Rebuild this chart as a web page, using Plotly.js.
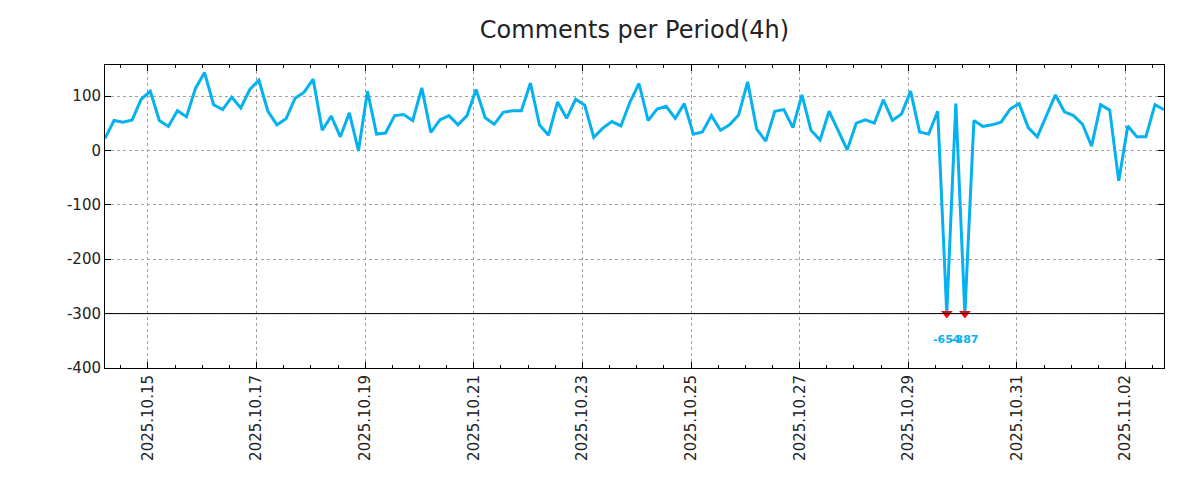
<!DOCTYPE html>
<html>
<head>
<meta charset="utf-8">
<script src="https://cdn.plot.ly/plotly-3.0.1.min.js"></script>
<style>html,body{margin:0;padding:0;background:#fff;}#chart{width:1200px;height:500px;}</style>
</head>
<body>
<div id="chart"></div>
<script>
// ---- data ----
const periodStart = '2025-10-14T05:00:00';
const periodHours = 4;
const commentCounts = [
  22, 55, 52, 56, 94, 109, 55, 44, 73, 62,
  114, 143, 84, 75, 98, 78, 112, 129, 72, 47,
  58, 96, 107, 131, 37, 63, 25, 69, -1, 109,
  30, 32, 64, 66, 55, 115, 33, 56, 64, 47,
  64, 112, 60, 48, 70, 73, 73, 124, 47, 28,
  89, 59, 94, 83, 24, 41, 53, 45, 89, 123,
  55, 76, 81, 59, 86, 30, 34, 64, 37, 47,
  65, 126, 39, 17, 72, 75, 42, 102, 37, 19,
  72, 36, 1, 50, 56, 50, 93, 55, 67, 109,
  34, 30, 72, -654, 86, -387, 55, 44, 47, 52,
  76, 86, 42, 25, 64, 102, 71, 64, 48, 8,
  84, 74, -56, 45, 25, 25, 84, 75
];
const clipFloor = -300;
const yTickVals = [100, 0, -100, -200, -300, -400];
const yTickText = ['100', '0', '-100', '-200', '-300', '-400'];

// ---- build ----
function fmt(d) {
  const p = n => String(n).padStart(2, '0');
  return d.getFullYear() + '-' + p(d.getMonth() + 1) + '-' + p(d.getDate()) + ' ' + p(d.getHours()) + ':00';
}
const t0 = new Date(periodStart);
const periods = commentCounts.map((_, i) => fmt(new Date(t0.getTime() + i * periodHours * 3600000)));
const plotted = commentCounts.map(v => Math.max(v, clipFloor));
const clippedIdx = commentCounts.map((v, i) => v < clipFloor ? i : -1).filter(i => i >= 0);

const lineColor = '#06b1f0';
const fontFam = 'DejaVu Sans, sans-serif';

const traces = [
  {
    x: periods, y: plotted, type: 'scatter', mode: 'lines',
    line: {color: lineColor, width: 3},
    hoverinfo: 'skip', showlegend: false
  },
  {
    x: clippedIdx.map(i => periods[i]), y: clippedIdx.map(() => clipFloor),
    type: 'scatter', mode: 'markers',
    marker: {symbol: 'triangle-down', color: '#ff0000', size: 10},
    hoverinfo: 'skip', showlegend: false, cliponaxis: false
  }
];

const annotations = clippedIdx.map(i => ({
  x: periods[i], y: clipFloor, xref: 'x', yref: 'y',
  text: '<b>' + String(commentCounts[i]) + '</b>',
  showarrow: false, yshift: -26,
  font: {family: fontFam, size: 11, color: lineColor}
}));

const layout = {
  width: 1200, height: 500,
  margin: {l: 105, r: 36, t: 65, b: 132},
  paper_bgcolor: '#fff', plot_bgcolor: '#fff',
  font: {family: fontFam, size: 15, color: '#222'},
  title: {text: 'Comments per Period(4h)', xref: 'paper', x: 0.5, xanchor: 'center', y: 0.94, yanchor: 'middle',
          font: {family: fontFam, size: 24, color: '#222'}},
  xaxis: {
    type: 'date',
    range: [periods[0], periods[periods.length - 1]],
    tick0: '2025-10-15', dtick: 2 * 86400000,
    tickformat: '%Y.%m.%d', tickangle: -90,
    ticks: 'inside', ticklen: 6, tickcolor: '#000',
    showline: true, linecolor: '#000', linewidth: 1, mirror: 'ticks',
    showgrid: true, gridcolor: '#a0a0a0', griddash: 'dot', gridwidth: 1,
    zeroline: false,
    minor: {dtick: 12 * 3600000, ticks: 'inside', ticklen: 3, tickcolor: '#000', showgrid: false},
    tickfont: {family: fontFam, size: 15, color: '#222'}
  },
  yaxis: {
    range: [-400, 157],
    tickvals: yTickVals, ticktext: yTickText,
    ticks: 'inside', ticklen: 6, tickcolor: '#000',
    showline: true, linecolor: '#000', linewidth: 1, mirror: 'ticks',
    showgrid: true, gridcolor: '#a0a0a0', griddash: 'dot', gridwidth: 1,
    zeroline: false,
    tickfont: {family: fontFam, size: 15, color: '#222'}
  },
  shapes: [{
    type: 'line', xref: 'paper', x0: 0, x1: 1, yref: 'y', y0: clipFloor, y1: clipFloor,
    line: {color: '#000', width: 1}, layer: 'above'
  }],
  annotations: annotations
};

Plotly.newPlot('chart', traces, layout, {displayModeBar: false, staticPlot: true});
</script>
</body>
</html>
